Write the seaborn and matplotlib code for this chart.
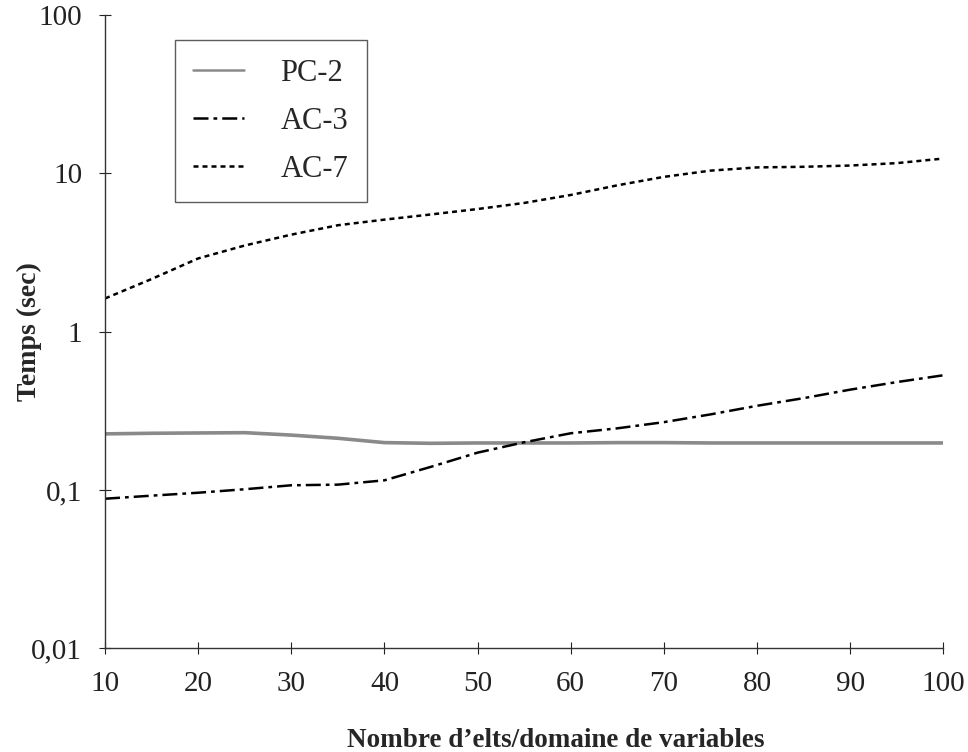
"""
Temps de calcul PC-2 / AC-3 / AC-7 selon la taille des domaines.
"""

import matplotlib
matplotlib.use("Agg")
import matplotlib.pyplot as plt
import pandas as pd
import seaborn as sns

# valeurs
taille = [10, 15, 20, 25, 30, 35, 40, 45, 50, 55, 60, 65, 70, 75, 80, 85, 90, 95, 100]
pc2 = [0.226, 0.228, 0.229, 0.230, 0.222, 0.212, 0.199, 0.197, 0.198, 0.198, 0.198,
       0.199, 0.199, 0.198, 0.198, 0.198, 0.198, 0.198, 0.198]
ac3 = [0.088, 0.092, 0.096, 0.101, 0.107, 0.108, 0.115, 0.140, 0.172, 0.200, 0.228,
       0.245, 0.268, 0.300, 0.340, 0.380, 0.430, 0.480, 0.530]
ac7 = [1.62, 2.15, 2.90, 3.50, 4.10, 4.70, 5.10, 5.50, 5.95, 6.50, 7.30,
       8.40, 9.50, 10.40, 10.90, 11.00, 11.20, 11.60, 12.40]
algos = ["PC-2", "AC-3", "AC-7"]

y_ticks = [0.01, 0.1, 1, 10, 100]
y_labels = ["0,01", "0,1", "1", "10", "100"]
x_ticks = [10, 20, 30, 40, 50, 60, 70, 80, 90, 100]


def run_plot():

    df = pd.concat([
        pd.DataFrame({"n": taille, "t": pc2, "algo": "PC-2"}),
        pd.DataFrame({"n": taille, "t": ac3, "algo": "AC-3"}),
        pd.DataFrame({"n": taille, "t": ac7, "algo": "AC-7"}),
    ])

    sns.set_style("ticks")
    plt.rcParams["font.family"] = ["Liberation Serif", "DejaVu Serif"]

    fig = plt.figure(figsize=(9.68, 7.52), dpi=100)
    ax = fig.add_axes([0.1085, 0.138, 0.866, 0.842])

    palette = {"PC-2": "#8a8a8a", "AC-3": "black", "AC-7": "black"}
    dashes = {"PC-2": "", "AC-3": (6, 2, 1.5, 2), "AC-7": (2, 1.6)}

    sns.lineplot(
        data=df,
        x="n",
        y="t",
        hue="algo",
        style="algo",
        hue_order=algos,
        style_order=algos,
        palette=palette,
        dashes=dashes,
        linewidth=1.8,
        ax=ax
    )
    ax.lines[0].set_linewidth(2.6)

    ax.set_yscale("log")
    ax.set_ylim(0.01, 100)
    ax.set_xlim(10, 100)
    ax.set_yticks(y_ticks)
    ax.set_yticklabels(y_labels)
    ax.set_xticks(x_ticks)
    ax.minorticks_off()

    sns.despine(ax=ax)
    for side in ["left", "bottom"]:
        ax.spines[side].set_color("#333333")
        ax.spines[side].set_linewidth(1.0)

    ax.tick_params(axis="both", which="major", bottom=True, left=True,
                   direction="inout", length=9, width=0.8,
                   labelsize=21, colors="#222222")
    ax.tick_params(axis="x", pad=12)
    ax.tick_params(axis="y", pad=12)

    ax.set_xlabel("Nombre d\u2019elts/domaine de variables",
                  fontsize=19.5, fontweight="bold")
    ax.set_ylabel("Temps (sec)", fontsize=20, fontweight="bold")
    ax.xaxis.label.set_va("baseline")
    ax.xaxis.set_label_coords(0.538, -0.156)
    ax.yaxis.set_label_coords(-0.075, 0.5)

    handles, labels = ax.get_legend_handles_labels()
    leg = ax.legend(
        handles, labels,
        loc="upper left",
        bbox_to_anchor=(0.0835, 0.96),
        fontsize=22,
        frameon=True,
        fancybox=False,
        edgecolor="#333333",
        handlelength=1.65,
        handletextpad=1.2,
        borderpad=0.6,
        labelspacing=0.62,
        borderaxespad=0
    )
    leg.get_frame().set_linewidth(1.0)

    fig.savefig("out.png", dpi=100)


if __name__ == "__main__":
    run_plot()
